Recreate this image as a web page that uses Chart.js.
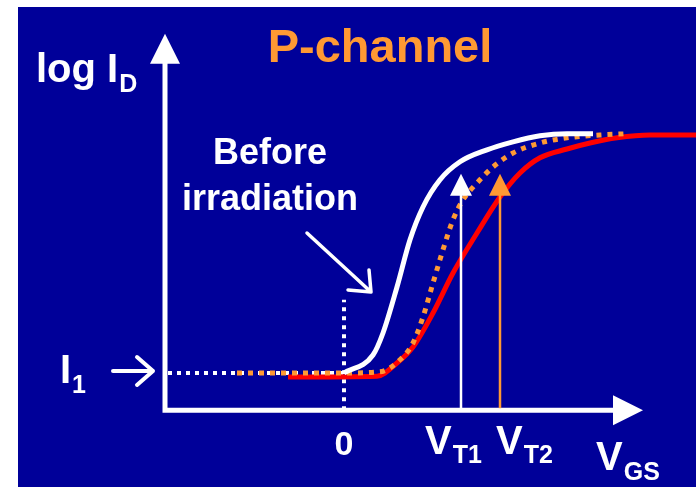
<!DOCTYPE html>
<html lang="en">
<head>
    <meta charset="UTF-8">
    <title>P-channel</title>
    <script src="https://cdn.jsdelivr.net/npm/chart.js"></script>
    <style>
        body { margin: 0; background: #fff; }
        canvas { display: block; }
    </style>
</head>
<body>
    <canvas id="graph" width="696" height="487"></canvas>

    <script>
        // V_GS (arbitrary units, 0 = the dotted zero line) and log I_D (decades above I1)
        const beforeX = [0, 0.29, 0.39, 0.53, 0.66, 0.79, 0.96, 1.16, 1.43, 1.69, 1.96, 2.23, 2.49];
        const beforeY = [0, 0.45, 1.0, 2.15, 3.33, 4.15, 4.83, 5.28, 5.58, 5.78, 5.93, 5.98, 5.98];

        const dottedX = [-1.07, 0, 0.36, 0.56, 0.69, 0.79, 0.89, 0.99, 1.09, 1.19, 1.33, 1.49, 1.69, 1.96, 2.23, 2.56, 2.81];
        const dottedY = [0, 0, 0.03, 0.33, 0.75, 1.4, 2.25, 3.08, 3.83, 4.33, 4.75, 5.15, 5.5, 5.75, 5.88, 5.95, 5.98];

        const afterX = [-0.56, 0.33, 0.53, 0.69, 0.89, 1.09, 1.33, 1.56, 1.76, 1.96, 2.23, 2.46, 2.73, 3.06, 3.52];
        const afterY = [-0.1, -0.08, 0.25, 0.65, 1.5, 2.5, 3.5, 4.4, 5.0, 5.38, 5.6, 5.75, 5.88, 5.95, 5.95];

        // reference lines: I1 level and V_GS = 0
        const i1X = [-1.76, 0];
        const i1Y = [0, 0];
        const zeroX = [0, 0];
        const zeroY = [-0.93, 1.83];

        // threshold voltages and where their arrows end
        const vt1 = 1.17;
        const vt2 = 1.56;
        const vtTop = 4.98;

        // axis origin and arrow tips
        const axisX = -1.79;
        const axisY = -0.93;
        const axisXEnd = 2.99;
        const axisYEnd = 8.48;

        const WHITE = "#ffffff";
        const ORANGE = "#ff9933";
        const RED = "#ff0000";
        const BLUE = "#000099";
        const FONT = "'Liberation Sans', Arial, sans-serif";

        const pts = (xs, ys) => xs.map((x, i) => ({ x: x, y: ys[i] }));

        function arrowHead(c, x, y, dir, len, half) {
            c.beginPath();
            c.moveTo(x, y);
            if (dir === "up") {
                c.lineTo(x - half, y + len);
                c.lineTo(x + half, y + len);
            } else {
                c.lineTo(x - len, y - half);
                c.lineTo(x - len, y + half);
            }
            c.closePath();
            c.fill();
        }

        function label(c, text, sub, x, y, size, subSize, drop) {
            c.font = "bold " + size + "px " + FONT;
            c.fillText(text, x, y);
            const w = c.measureText(text).width;
            c.font = "bold " + subSize + "px " + FONT;
            c.fillText(sub, x + w + 1, y + drop);
        }

        const decor = {
            id: "decor",
            beforeDraw(chart) {
                const c = chart.ctx;
                c.save();
                c.fillStyle = "#ffffff";
                c.fillRect(0, 0, chart.width, chart.height);
                c.fillStyle = BLUE;
                c.fillRect(18, 7, chart.width - 18, chart.height - 7);
                c.restore();
            },
            beforeDatasetsDraw(chart) {
                const c = chart.ctx;
                const sx = chart.scales.x, sy = chart.scales.y;
                const ox = sx.getPixelForValue(axisX);
                const oy = sy.getPixelForValue(axisY);
                const xt = sx.getPixelForValue(axisXEnd);
                const yt = sy.getPixelForValue(axisYEnd);
                c.save();
                c.strokeStyle = WHITE;
                c.fillStyle = WHITE;
                c.lineWidth = 5;
                c.lineCap = "butt";
                c.beginPath();
                c.moveTo(ox, oy + 2.5);
                c.lineTo(ox, yt + 28);
                c.moveTo(ox - 2.5, oy);
                c.lineTo(xt - 28, oy);
                c.stroke();
                arrowHead(c, ox, yt, "up", 30, 15);
                arrowHead(c, xt, oy, "right", 30, 15);
                c.restore();
            },
            afterDatasetsDraw(chart) {
                const c = chart.ctx;
                const sx = chart.scales.x, sy = chart.scales.y;
                const oy = sy.getPixelForValue(axisY);
                c.save();

                // threshold arrows, drawn over the curves
                const tTop = sy.getPixelForValue(vtTop);
                [[vt1, WHITE], [vt2, ORANGE]].forEach(([v, col]) => {
                    const px = sx.getPixelForValue(v);
                    c.strokeStyle = col;
                    c.fillStyle = col;
                    c.lineWidth = 2.5;
                    c.beginPath();
                    c.moveTo(px, oy - 2);
                    c.lineTo(px, tTop + 20);
                    c.stroke();
                    arrowHead(c, px, tTop, "up", 22, 11);
                });

                c.textBaseline = "alphabetic";

                // title
                c.fillStyle = ORANGE;
                c.textAlign = "center";
                c.font = "bold 47px " + FONT;
                c.fillText("P-channel", 380, 62);

                c.fillStyle = WHITE;
                c.font = "bold 36px " + FONT;
                c.fillText("Before", 270, 164);
                c.fillText("irradiation", 270, 210);
                c.font = "bold 34px " + FONT;
                c.fillText("0", sx.getPixelForValue(0), 455);

                c.textAlign = "left";
                label(c, "log I", "D", 36, 82, 40, 25, 10);
                label(c, "I", "1", 60, 383, 40, 25, 10);
                label(c, "V", "T1", sx.getPixelForValue(vt1) - 36, 454, 40, 25, 9);
                label(c, "V", "T2", sx.getPixelForValue(vt2) - 4, 454, 40, 25, 9);
                label(c, "V", "GS", 596, 470, 40, 25, 10);

                // pointer arrows
                c.strokeStyle = WHITE;
                c.lineCap = "round";
                c.lineJoin = "round";
                c.lineWidth = 3.5;
                c.beginPath();
                c.moveTo(307, 233);
                c.lineTo(371, 292);
                c.moveTo(348, 290);
                c.lineTo(371, 292);
                c.lineTo(369, 270);
                c.stroke();

                const iy = sy.getPixelForValue(0) - 2;
                c.lineWidth = 4;
                c.beginPath();
                c.moveTo(113, iy);
                c.lineTo(153, iy);
                c.moveTo(137, iy - 14);
                c.lineTo(153, iy);
                c.lineTo(137, iy + 14);
                c.stroke();
                c.restore();
            }
        };

        const ctx = document.getElementById("graph").getContext("2d");
        new Chart(ctx, {
            type: "line",
            data: {
                datasets: [
                    {
                        label: "Before irradiation",
                        data: pts(beforeX, beforeY),
                        borderColor: WHITE,
                        borderWidth: 5,
                        cubicInterpolationMode: "monotone"
                    },
                    {
                        label: "Dotted",
                        data: pts(dottedX, dottedY),
                        borderColor: ORANGE,
                        borderWidth: 5,
                        borderDash: [5, 6],
                        cubicInterpolationMode: "monotone"
                    },
                    {
                        label: "After irradiation",
                        data: pts(afterX, afterY),
                        borderColor: RED,
                        borderWidth: 5,
                        cubicInterpolationMode: "monotone"
                    },
                    {
                        label: "I1",
                        data: pts(i1X, i1Y),
                        borderColor: WHITE,
                        borderWidth: 4,
                        borderDash: [4, 5],
                        tension: 0
                    },
                    {
                        label: "zero",
                        data: pts(zeroX, zeroY),
                        borderColor: WHITE,
                        borderWidth: 4,
                        borderDash: [4, 5],
                        tension: 0
                    }
                ]
            },
            options: {
                responsive: false,
                animation: false,
                layout: { padding: 0 },
                elements: { point: { radius: 0 } },
                plugins: {
                    legend: { display: false },
                    tooltip: { enabled: false }
                },
                scales: {
                    x: { type: "linear", display: false, min: -3.44, max: 3.52 },
                    y: { type: "linear", display: false, min: -2.85, max: 9.325 }
                }
            },
            plugins: [decor]
        });
    </script>
</body>
</html>
